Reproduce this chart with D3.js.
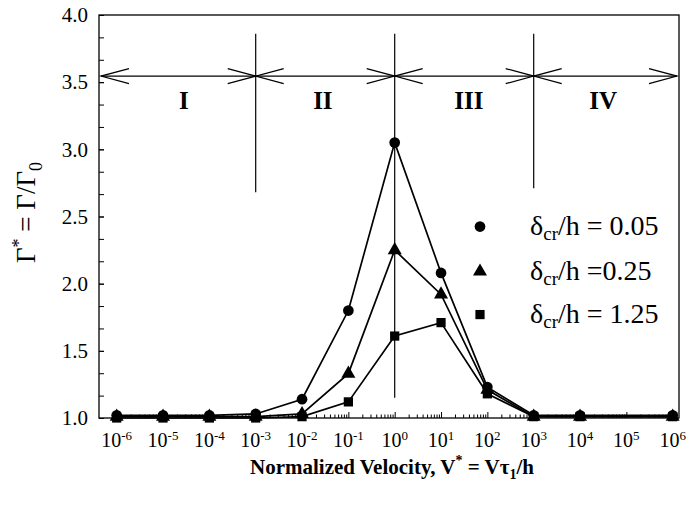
<!DOCTYPE html>
<html>
<head>
<meta charset="utf-8">
<script src="https://cdn.jsdelivr.net/npm/d3@7"></script>
<style>
  body { margin: 0; background: #fff; }
  svg text { font-family: "Liberation Serif", "Times New Roman", serif; fill: #000; }
  .axis path { stroke: none; }
  .axis line { stroke: #000; stroke-width: 1; }
</style>
</head>
<body>
<div id="chart"></div>
<script>
// exponents of the normalized velocity (10^k)
var velExp = [-6, -5, -4, -3, -2, -1, 0, 1, 2, 3, 4, 6];

// Gamma* for each delta_cr/h
var gam005 = [1.02, 1.02, 1.02, 1.03, 1.14, 1.80, 3.05, 2.08, 1.23, 1.02, 1.02, 1.02];
var gam025 = [1.01, 1.01, 1.01, 1.01, 1.03, 1.33, 2.25, 1.92, 1.21, 1.01, 1.01, 1.01];
var gam125 = [1.00, 1.00, 1.00, 1.00, 1.01, 1.12, 1.61, 1.71, 1.18, 1.01, 1.01, 1.01];

var seriesNames = ["0.05", "0.25", "1.25"];
var seriesSep = [" = ", " =", " = "];

var xTickExp = [-6, -5, -4, -3, -2, -1, 0, 1, 2, 3, 4, 5, 6];
var yTicks = [1.0, 1.5, 2.0, 2.5, 3.0, 3.5, 4.0];

// regimes
var regionNames = ["I", "II", "III", "IV"];
var regionExp = [-4.55, -1.55, 1.6, 4.5];
var dividerExp = [-3, 0, 3];
var dividerBottom = [2.68, 1.15, 2.71];

var width = 689, height = 508;
var margin = {left: 99, top: 15, right: 10, bottom: 90};
var w = width - margin.left - margin.right;   // 580
var h = height - margin.top - margin.bottom;  // 403

var svg = d3.select("#chart").append("svg")
    .attr("width", width)
    .attr("height", height)
  .append("g")
    .attr("transform", "translate(" + margin.left + "," + margin.top + ")");

var xScale = d3.scaleLog()
    .domain([Math.pow(10, -6.382), Math.pow(10, 6.136)])
    .range([0, w]);

var yScale = d3.scaleLinear()
    .domain([1, 4])
    .range([h, 0]);

// minor ticks x (2..9 per decade)
var xMinor = [];
for (var e = -6; e < 6; e++) {
    for (var m = 2; m <= 9; m++) xMinor.push(m * Math.pow(10, e));
}

svg.append("g")
    .attr("class", "axis")
    .attr("transform", "translate(0," + h + ")")
    .call(d3.axisBottom(xScale).tickValues(xMinor).tickSize(-3.5).tickFormat(""));

svg.append("g")
    .attr("class", "axis")
    .attr("transform", "translate(0," + h + ")")
    .call(d3.axisBottom(xScale).tickValues(xTickExp.map(d => Math.pow(10, d))).tickSize(-6).tickFormat(""));

// x tick labels with superscripts
var xl = svg.selectAll(".xlab")
    .data(xTickExp)
  .enter().append("text")
    .attr("class", "xlab")
    .attr("x", d => xScale(Math.pow(10, d)))
    .attr("y", h + 29)
    .attr("text-anchor", "middle")
    .style("font-size", "20px");
xl.append("tspan").text("10");
xl.append("tspan")
    .attr("dy", -7)
    .style("font-size", "13px")
    .text(d => d < 0 ? "-" + (-d) : d);

// y ticks
var yMinor = d3.range(0, 19).map(i => 1 + i / 6);
svg.append("g")
    .attr("class", "axis")
    .call(d3.axisLeft(yScale).tickValues(yMinor).tickSize(-5).tickFormat(""));

svg.append("g")
    .attr("class", "axis")
    .call(d3.axisLeft(yScale).tickValues(yTicks).tickSize(-5).tickPadding(11).tickFormat(d3.format(".1f")))
    .selectAll("text")
    .style("font-size", "21px");

// frame
svg.append("rect")
    .attr("x", 0).attr("y", 0)
    .attr("width", w).attr("height", h)
    .style("fill", "none")
    .style("stroke", "#000")
    .style("stroke-width", 1.3);

// regime dividers
svg.selectAll(".divider")
    .data(dividerExp)
  .enter().append("line")
    .attr("class", "divider")
    .attr("x1", d => xScale(Math.pow(10, d)))
    .attr("x2", d => xScale(Math.pow(10, d)))
    .attr("y1", yScale(3.86))
    .attr("y2", (d, i) => yScale(dividerBottom[i]))
    .style("stroke", "#000")
    .style("stroke-width", 1.2);

// arrow line across the top
var yArrow = yScale(3.545);
svg.append("line")
    .attr("x1", 2).attr("x2", w - 2)
    .attr("y1", yArrow).attr("y2", yArrow)
    .style("stroke", "#000")
    .style("stroke-width", 1.2);

function arrowHead(xTip, dir) {
    // dir = -1 points left, +1 points right
    var len = 28, spread = 7.5;
    svg.append("path")
        .attr("d", "M" + (xTip - dir * len) + "," + (yArrow - spread) +
                   "L" + xTip + "," + yArrow +
                   "L" + (xTip - dir * len) + "," + (yArrow + spread))
        .style("fill", "none")
        .style("stroke", "#000")
        .style("stroke-width", 1.2);
}
arrowHead(2, -1);
arrowHead(w - 2, 1);
dividerExp.forEach(function(d) {
    var xx = xScale(Math.pow(10, d));
    arrowHead(xx, 1);
    arrowHead(xx, -1);
});

svg.selectAll(".region")
    .data(regionNames)
  .enter().append("text")
    .attr("class", "region")
    .attr("x", (d, i) => xScale(Math.pow(10, regionExp[i])))
    .attr("y", yScale(3.30))
    .attr("text-anchor", "middle")
    .style("font-size", "25px")
    .style("font-weight", "bold")
    .text(d => d);

// series
var line = d3.line()
    .x(d => xScale(Math.pow(10, d.x)))
    .y(d => yScale(d.y));

var allSeries = [gam005, gam025, gam125].map(function(vals) {
    return vals.map((v, i) => ({x: velExp[i], y: v}));
});

var symbols = [d3.symbolCircle, d3.symbolTriangle, d3.symbolSquare];
var symSizes = [90, 85, 85];

allSeries.forEach(function(data, k) {
    svg.append("path")
        .datum(data)
        .attr("class", "line")
        .attr("d", line)
        .style("fill", "none")
        .style("stroke", "#000")
        .style("stroke-width", 1.7);
});

allSeries.forEach(function(data, k) {
    svg.selectAll(".dot" + k)
        .data(data)
      .enter().append("path")
        .attr("class", "dot dot" + k)
        .attr("transform", d => "translate(" + xScale(Math.pow(10, d.x)) + "," + yScale(d.y) + ")")
        .attr("d", d3.symbol().type(symbols[k]).size(symSizes[k]))
        .style("fill", "#000");
});

// legend
var legendY = [2.425, 2.09, 1.77];
var legX = 381;
seriesNames.forEach(function(name, k) {
    var ly = yScale(legendY[k]);
    svg.append("path")
        .attr("transform", "translate(" + legX + "," + ly + ")")
        .attr("d", d3.symbol().type(symbols[k]).size(symSizes[k]))
        .style("fill", "#000");
    var t = svg.append("text")
        .attr("x", legX + 50)
        .attr("y", ly + 8.5)
        .style("font-size", "28px");
    t.append("tspan").text("\u03b4");
    t.append("tspan").attr("dy", 5).style("font-size", "19px").text("cr");
    t.append("tspan").attr("dy", -5).text("/h" + seriesSep[k] + name);
});

// axis titles
var xt = svg.append("text")
    .attr("x", 293)
    .attr("y", h + 56)
    .attr("text-anchor", "middle")
    .style("font-size", "21px")
    .style("font-weight", "bold");
xt.append("tspan").text("Normalized Velocity, V");
xt.append("tspan").attr("dy", -9).style("font-size", "14px").text("*");
xt.append("tspan").attr("dy", 9).text(" = V\u03c4");
xt.append("tspan").attr("dy", 5).style("font-size", "14px").text("1");
xt.append("tspan").attr("dy", -5).text("/h");

var yt = svg.append("text")
    .attr("transform", "translate(-64," + yScale(2.53) + ") rotate(-90)")
    .attr("text-anchor", "middle")
    .style("font-size", "27px");
yt.append("tspan").text("\u0393");
yt.append("tspan").attr("dy", -10).style("font-size", "18px").text("*");
yt.append("tspan").attr("dy", 10).text(" = \u0393/\u0393");
yt.append("tspan").attr("dy", 7).style("font-size", "18px").text("0");
</script>
</body>
</html>
